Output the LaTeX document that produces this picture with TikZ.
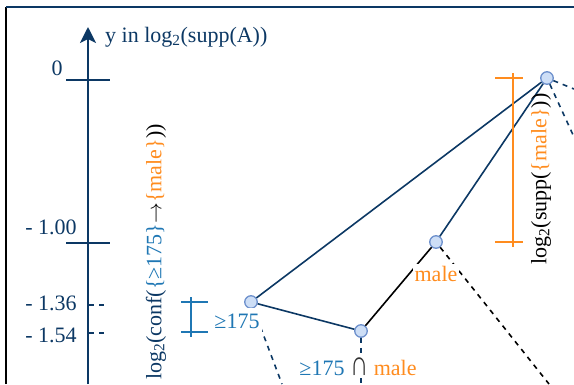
\documentclass[tikz,border=0pt]{standalone}
\usepackage{fontspec}
\usepackage{graphicx}
\setmainfont{Liberation Serif}
\usetikzlibrary{arrows.meta}
\definecolor{navy}{RGB}{12,56,100}
\definecolor{cblue}{RGB}{31,119,180}
\definecolor{corange}{RGB}{255,140,30}
\definecolor{ptfill}{RGB}{205,222,246}
\definecolor{ptdraw}{RGB}{110,145,205}
\tikzset{
  pt/.style={circle, draw=ptdraw, fill=ptfill, line width=1.3pt, inner sep=0pt, minimum size=12.5pt},
  edge/.style={navy, line width=1.6pt},
  dashedge/.style={navy, line width=1.6pt, dash pattern=on 5pt off 5pt},
  tickline/.style={navy, line width=1.6pt},
  lbl/.style={inner sep=2pt, fill=white},
}
\begin{document}
\begin{tikzpicture}[x=1pt, y=-1pt, font=\fontsize{22}{25}\selectfont]
\useasboundingbox (0,0) rectangle (574,384);
% frame
\draw[black, line width=1.6pt] (6,384) -- (6,7);
\draw[navy, line width=1.8pt] (6,7) -- (574,7);
% axis
\coordinate (ax0) at (88,384);
\coordinate (ax1) at (88,27);
\draw[navy, line width=1.8pt, -{Stealth[length=16pt, width=16pt, inset=4pt]}] (ax0) -- (ax1);
\node[anchor=west, text=navy, inner sep=0pt] (axlab) at (105,37) {y in log\textsubscript{2}(supp(A))};
% ticks
\draw[tickline] (66,80) -- (110,80);
\draw[tickline] (66,243) -- (110,243);
\draw[navy, line width=1.3pt, dash pattern=on 5pt off 5pt] (89,305) -- (105,305);
\draw[navy, line width=1.3pt, dash pattern=on 5pt off 5pt] (89,333) -- (105,333);
\node[text=navy] (t0) at (57,68) {0};
\node[text=navy] (t1) at (51,227) {- 1.00};
\node[text=navy] (t2) at (51,303) {- 1.36};
\node[text=navy] (t3) at (51,335) {- 1.54};
% points
\node[pt] (A) at (251,302) {};
\node[pt] (B) at (361,331) {};
\node[pt] (C) at (436,242) {};
\node[pt] (D) at (547,78) {};
\coordinate (Aend) at (282,384);
\coordinate (Bend) at (361,384);
\coordinate (Cend) at (549,384);
\coordinate (D1end) at (574,89);
\coordinate (D2end) at (574,137);
% edges
\draw[edge] (D) -- (A);
\draw[edge] (D) -- (C);
\draw[edge] (A) -- (B);
\draw[black, line width=1.6pt] (B) -- (C);
\draw[dashedge] (A) -- (Aend);
\draw[dashedge] (B) -- (Bend);
\draw[dashedge, black] (C) -- (Cend);
\draw[dashedge] (D) -- (D1end);
\draw[dashedge] (D) -- (D2end);
% brackets
\draw[corange, line width=1.5pt] (513,73) -- (513,247);
\draw[corange, line width=1.5pt] (495,78) -- (523,78);
\draw[corange, line width=1.5pt] (495,242) -- (523,242);
\draw[cblue, line width=1.5pt] (191,297) -- (191,337);
\draw[cblue, line width=1.5pt] (181,302) -- (208,302);
\draw[cblue, line width=1.5pt] (181,332) -- (208,332);
% labels
\node[lbl, text=cblue, minimum height=26pt] (lA) at (237,321) {≥175};
\node[lbl, text=corange] (lC) at (436,274) {male};
\node[lbl] (lB) at (358,367) {\textcolor{cblue}{≥175} \textcolor{black!80}{\scalebox{1.15}[1.6]{∩}} \textcolor{corange}{male}};
\node[rotate=90, text=navy, inner sep=0pt] (conflab) at (156,252) {log\textsubscript{2}(conf(\textcolor{cblue}{\{≥175\}}\textcolor{black}{$\rightarrow$}\textcolor{corange}{\{male\}}\textcolor{black}{))}};
\node[rotate=90, text=black, inner sep=0pt] (supplab) at (541,179) {log\textsubscript{2}(supp(\textcolor{corange}{\{male\}}))};
\end{tikzpicture}
\end{document}
